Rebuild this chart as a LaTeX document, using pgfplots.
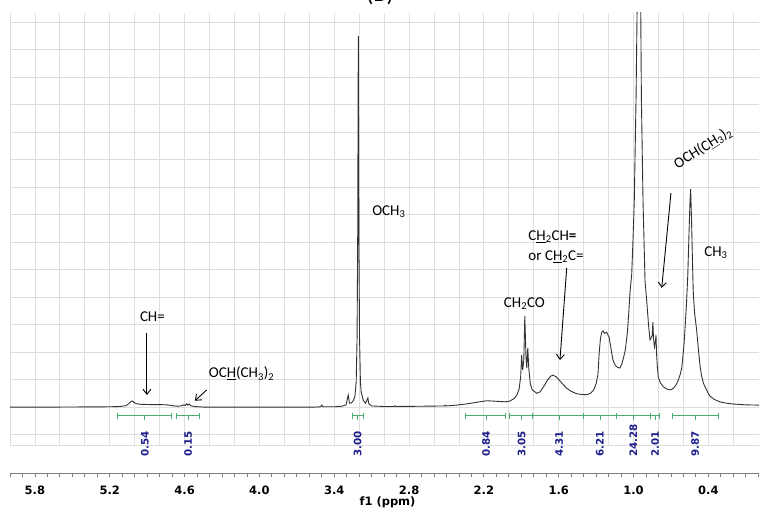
\documentclass[border=0pt]{standalone}
\usepackage{fontspec}
\setmainfont{Carlito}
\newfontfamily\verd{DejaVu Sans}
\usepackage{pgfplots}
\pgfplotsset{compat=1.18}
\usetikzlibrary{arrows.meta,calc}

\definecolor{specc}{RGB}{50,50,50}
\definecolor{gridc}{RGB}{222,222,222}
\definecolor{intgreen}{RGB}{70,175,110}
\definecolor{intblue}{RGB}{30,30,140}

% integral bracket: start, end, mid, value
\newcommand{\integ}[4]{%
  \draw[intgreen,line width=0.9pt] (axis cs:#1,-0.32) -- (axis cs:#2,-0.32);
  \draw[intgreen,line width=0.9pt] (axis cs:#1,-0.22) -- (axis cs:#1,-0.42);
  \draw[intgreen,line width=0.9pt] (axis cs:#2,-0.22) -- (axis cs:#2,-0.42);
  \draw[intgreen,line width=0.9pt] (axis cs:#3,-0.32) -- (axis cs:#3,-0.48);
  \node[rotate=90,anchor=west,inner sep=0pt,text=intblue,
        font=\verd\bfseries\fontsize{10.3}{10.3}\selectfont] at (axis cs:#3,-1.82) {#4};
}

\tikzset{ann/.style={font=\fontsize{15}{20}\selectfont,inner sep=0pt},
         arr/.style={line width=0.9pt,-{Straight Barb[length=5pt,width=8pt]}}}

\begin{document}
\begin{tikzpicture}
\begin{axis}[
  name=A,
  scale only axis,
  width=749pt, height=432pt,
  xmin=-0.006, xmax=6.0, x dir=reverse,
  ymin=-1.38, ymax=14.33,
  clip mode=individual,
  axis line style={draw=none},
  tick style={draw=none},
  xtick={0.2,0.4,0.6,0.8,1.0,1.2,1.4,1.6,1.8,2.0,2.2,2.4,2.6,2.8,3.0,3.2,3.4,3.6,3.8,4.0,4.2,4.4,4.6,4.8,5.0,5.2,5.4,5.6,5.8,6.0},
  ytick={-1,0,...,14},
  xticklabels={}, yticklabels={},
  extra y ticks={-1.38}, extra y tick labels={},
  extra y tick style={grid=major},
  grid=major,
  major grid style={gridc,line width=0.8pt},
]
\addplot[specc,line width=0.9pt] coordinates {
(6.000,0.00) (5.600,0.00) (5.200,0.01) (5.120,0.02) (5.070,0.05) (5.045,0.13)
(5.030,0.20) (5.020,0.22) (5.005,0.17) (4.985,0.12) (4.950,0.10) (4.880,0.09)
(4.800,0.09) (4.740,0.08) (4.700,0.05) (4.660,0.03) (4.630,0.04) (4.605,0.08)
(4.595,0.06) (4.583,0.12) (4.575,0.07) (4.565,0.11) (4.550,0.05) (4.520,0.02)
(4.450,0.00) (3.550,0.00) (3.510,0.01) (3.500,0.07) (3.490,0.01) (3.400,0.01)
(3.340,0.03) (3.305,0.08) (3.288,0.44) (3.278,0.14) (3.262,0.15) (3.245,0.25)
(3.234,0.40) (3.224,0.90) (3.217,2.50) (3.212,6.00) (3.207,13.50) (3.202,6.00)
(3.197,2.50) (3.190,0.90) (3.184,0.55) (3.178,0.45) (3.168,0.25) (3.150,0.14)
(3.138,0.25) (3.130,0.33) (3.123,0.12) (3.100,0.04) (3.000,0.02) (2.920,0.02)
(2.913,0.05) (2.905,0.02) (2.700,0.03) (2.520,0.04) (2.512,0.07) (2.505,0.04)
(2.420,0.07) (2.330,0.12) (2.250,0.18) (2.175,0.23) (2.100,0.21) (2.030,0.19)
(1.990,0.22) (1.955,0.32) (1.935,0.44) (1.918,0.65) (1.905,1.10) (1.897,1.89)
(1.889,1.35) (1.880,1.70) (1.872,3.31) (1.863,1.90) (1.856,1.42) (1.848,2.15)
(1.840,1.40) (1.828,0.85) (1.812,0.62) (1.790,0.55) (1.777,0.50) (1.750,0.55)
(1.720,0.75) (1.690,0.98) (1.665,1.12) (1.645,1.16) (1.620,1.10) (1.590,0.95)
(1.560,0.80) (1.537,0.69) (1.500,0.57) (1.460,0.49) (1.420,0.46) (1.375,0.45)
(1.345,0.50) (1.320,0.62) (1.300,0.85) (1.285,1.20) (1.275,2.00) (1.265,2.50)
(1.255,2.72) (1.245,2.77) (1.232,2.68) (1.215,2.72) (1.195,2.52) (1.180,2.10)
(1.165,1.71) (1.145,1.50) (1.125,1.44) (1.110,1.42) (1.095,1.55) (1.080,1.80)
(1.065,2.10) (1.050,2.70) (1.040,3.30) (1.028,4.20) (1.015,4.80) (1.005,6.00)
(0.994,7.50) (0.980,11.20) (0.972,14.25) (0.962,18.00) (0.950,18.00) (0.942,14.25)
(0.937,11.20) (0.924,7.50) (0.908,4.60) (0.895,3.90) (0.880,3.00) (0.868,2.44)
(0.850,2.60) (0.845,3.10) (0.840,2.50) (0.832,2.19) (0.824,2.40) (0.820,2.62)
(0.815,1.89) (0.808,1.40) (0.802,1.10) (0.785,0.88) (0.762,0.74) (0.735,0.66)
(0.708,0.62) (0.680,0.68) (0.660,0.80) (0.641,0.98) (0.625,1.20) (0.614,1.41)
(0.605,1.80) (0.595,2.30) (0.588,2.80) (0.575,3.80) (0.565,4.80) (0.556,6.20)
(0.548,7.40) (0.542,7.92) (0.535,6.80) (0.528,5.40) (0.522,4.30) (0.519,4.00)
(0.510,3.40) (0.494,2.80) (0.480,2.10) (0.467,1.50) (0.455,1.15) (0.440,0.87)
(0.425,0.72) (0.413,0.62) (0.400,0.48) (0.387,0.40) (0.360,0.30) (0.330,0.23)
(0.300,0.18) (0.253,0.14) (0.200,0.11) (0.100,0.08) (-0.006,0.07)
};

\integ{5.140}{4.704}{4.918}{0.54}
\integ{4.664}{4.477}{4.571}{0.15}
\integ{3.252}{3.167}{3.212}{3.00}
\integ{2.344}{2.031}{2.183}{0.84}
\integ{1.996}{1.809}{1.897}{3.05}
\integ{1.809}{1.403}{1.596}{4.31}
\integ{1.403}{1.135}{1.269}{6.21}
\integ{1.135}{0.863}{1.002}{24.28}
\integ{0.863}{0.794}{0.826}{2.01}
\integ{0.689}{0.320}{0.507}{9.87}

% peak labels
\node[ann] at (axis cs:4.858,3.27) {CH=};
\draw[arr] (axis cs:4.902,2.69) -- (axis cs:4.902,0.44);
\node[ann] at (axis cs:4.143,1.22) {OC\underline{H}(CH\textsubscript{3})\textsubscript{2}};
\draw[arr] (axis cs:4.423,0.62) -- (axis cs:4.517,0.23);
\node[ann] at (axis cs:2.962,7.09) {OCH\textsubscript{3}};
\node[ann] at (axis cs:1.875,3.77) {CH\textsubscript{2}CO};
\node[ann,anchor=west,align=left] at (axis cs:1.844,5.82)
  {C\underline{H}\textsubscript{2}CH\textbf{=}\\or C\underline{H}\textsubscript{2}C=};
\draw[arr] (axis cs:1.536,5.05) -- (axis cs:1.590,1.71);
\node[ann,rotate=32] at (axis cs:0.443,9.42) {OCH(C\underline{H}\textsubscript{3})\textsubscript{2}};
\draw[arr] (axis cs:0.700,7.78) -- (axis cs:0.774,4.33);
\node[ann] at (axis cs:0.340,5.60) {CH\textsubscript{3}};
\end{axis}

\begin{axis}[
  at={($(A.south west)+(0,-28pt)$)}, anchor=south west,
  scale only axis,
  width=749pt, height=10pt,
  xmin=-0.006, xmax=6.0, x dir=reverse,
  ymin=0, ymax=1,
  axis x line*=bottom, axis y line=none,
  axis line style={gray,line width=0.8pt,-},
  xtick={0.4,1.0,1.6,2.2,2.8,3.4,4.0,4.6,5.2,5.8},
  xticklabels={0.4,1.0,1.6,2.2,2.8,3.4,4.0,4.6,5.2,5.8},
  minor xtick={0.0,0.1,0.2,0.3,0.5,0.6,0.7,0.8,0.9,1.1,1.2,1.3,1.4,1.5,1.7,1.8,1.9,2.0,2.1,2.3,2.4,2.5,2.6,2.7,2.9,3.0,3.1,3.2,3.3,3.5,3.6,3.7,3.8,3.9,4.1,4.2,4.3,4.4,4.5,4.7,4.8,4.9,5.0,5.1,5.3,5.4,5.5,5.6,5.7,5.9,6.0},
  tick align=outside,
  major tick length=4pt, minor tick length=4pt,
  tick style={gray,line width=0.8pt},
  xticklabel style={font=\verd\bfseries\fontsize{11.5}{11.5}\selectfont,yshift=-5pt},
  xlabel={f1 (ppm)},
  xlabel style={font=\verd\bfseries\fontsize{11.5}{11.5}\selectfont,
    at={(axis description cs:0.5,0)},anchor=center,yshift=-29pt,xshift=3pt},
]
\end{axis}

\node[font=\fontsize{24}{24}\selectfont,anchor=base] at ($(A.north west)+(370pt,11pt)$) {(B)};
\pgfresetboundingbox
\path[use as bounding box] ($(A.south west)+(-10pt,-66pt)$) rectangle ($(A.north east)+(0,13pt)$);
\end{tikzpicture}
\end{document}
